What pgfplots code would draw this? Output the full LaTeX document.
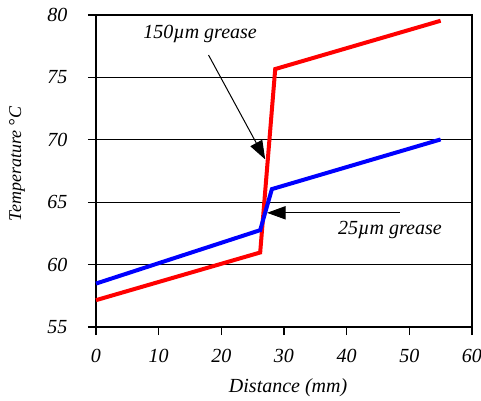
\documentclass[border=0pt]{standalone}
\usepackage{fontspec}
\setmainfont{Liberation Serif}
\usepackage{pgfplots}
\pgfplotsset{compat=1.18}
\usetikzlibrary{arrows.meta}
\begin{document}
\begin{tikzpicture}[font=\itshape]
\begin{axis}[
  scale only axis,
  width=282pt, height=234pt,
  xmin=0, xmax=60, ymin=55, ymax=80,
  xtick={0,10,...,60}, ytick={55,60,...,80},
  ymajorgrids, grid style={black, line width=0.8pt},
  axis line style={black, line width=0.8pt},
  tick style={black, line width=0.8pt},
  tick align=outside, major tick length=6pt,
  xtick pos=bottom, ytick pos=left,
  /pgf/number format/assume math mode=true,
  ticklabel style={font=\fontsize{15}{17}\selectfont\itshape},
  yticklabel style={xshift=-12pt},
  xticklabel style={yshift=-7pt},
  xlabel={Distance (mm)}, ylabel={Temperature °C},
  xlabel style={font=\fontsize{15}{17}\selectfont\itshape, at={(axis description cs:0.511,-0.195)}, anchor=center},
  ylabel style={font=\fontsize{13.5}{16}\selectfont\itshape, at={(axis description cs:-0.21,0.522)}, anchor=center},
  clip=false,
]
\addplot[red, line width=3pt] coordinates {(0,57.15) (26.2,60.97) (28.6,75.67) (55,79.54)};
\addplot[blue, line width=3pt] coordinates {(0,58.48) (26.2,62.76) (28.07,66.05) (55,70.03)};
\draw[-{Triangle[length=14pt,width=10pt]}, line width=0.75pt] (axis cs:17.96,76.79) -- (axis cs:27.0,68.43);
\draw[-{Triangle[length=14pt,width=10pt]}, line width=0.75pt] (axis cs:48.5,64.15) -- (axis cs:27.3,64.15);
\node[font=\fontsize{15}{17}\selectfont\itshape] at (axis cs:16.6,78.5) {150µm grease};
\node[font=\fontsize{15}{17}\selectfont\itshape] at (axis cs:46.9,62.76) {25µm grease};
\end{axis}
\pgfresetboundingbox
\path (-72pt,-54.75pt) rectangle (288.75pt,245.25pt);
\end{tikzpicture}
\end{document}
